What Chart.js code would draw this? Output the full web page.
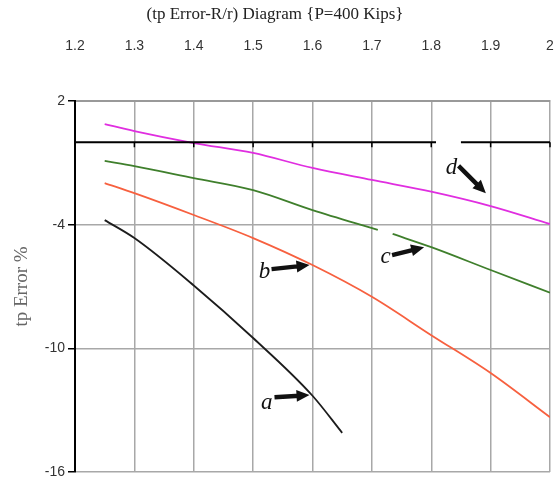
<!DOCTYPE html>
<html><head><meta charset="utf-8">
<script src="https://cdn.jsdelivr.net/npm/chart.js@4.4.1/dist/chart.umd.min.js"></script>
<style>html,body{margin:0;padding:0;background:#fff;}canvas{display:block;}</style>
</head><body>
<canvas id="chart" width="559" height="487"></canvas>
<script>
// ---- data ----
const titleText = '(tp Error-R/r) Diagram {P=400 Kips}';
const yTitle = 'tp Error %';
const xTicks = [1.2, 1.3, 1.4, 1.5, 1.6, 1.7, 1.8, 1.9, 2.0];
const yTicks = [2, -4, -10, -16];

const xA = [1.25, 1.3, 1.4, 1.5, 1.6, 1.65];
const yA = [-3.78, -4.65, -6.95, -9.5, -12.3, -14.1];

const xB = [1.25, 1.3, 1.4, 1.5, 1.6, 1.7, 1.8, 1.9, 2.0];
const yB = [-1.98, -2.47, -3.53, -4.65, -5.96, -7.5, -9.36, -11.2, -13.34];

const xC = [1.25, 1.3, 1.4, 1.5, 1.6, 1.71, 1.72, 1.735, 1.8, 1.9, 2.0];
const yC = [-0.91, -1.16, -1.74, -2.32, -3.29, -4.25, null, -4.45, -5.09, -6.2, -7.3];

const xD = [1.25, 1.3, 1.4, 1.5, 1.6, 1.7, 1.8, 1.9, 2.0];
const yD = [0.88, 0.54, -0.04, -0.52, -1.25, -1.83, -2.4, -3.1, -3.97];

// curve labels (data coordinates) and their arrows
const curveNames = ['a', 'b', 'c', 'd'];
const nameX = [1.523, 1.519, 1.723, 1.834];
const nameY = [-12.66, -6.3, -5.57, -1.25];
const arrowX1 = [1.536, 1.531, 1.734, 1.846];
const arrowY1 = [-12.37, -6.16, -5.48, -1.15];
const arrowX2 = [1.595, 1.595, 1.788, 1.892];
const arrowY2 = [-12.27, -5.96, -5.09, -2.47];

// zero reference line, interrupted behind label d
const zeroGapFrom = 1.808;
const zeroGapTo = 1.85;

const pts = (xs, ys) => xs.map((x, i) => ({x: x, y: ys[i]}));

const overlay = {
  id: 'overlay',
  afterDatasetsDraw(chart) {
    const ctx = chart.ctx, xs = chart.scales.x, ys = chart.scales.y;
    const y0 = ys.getPixelForValue(0);
    ctx.save();
    ctx.strokeStyle = '#000';
    ctx.lineWidth = 2;
    ctx.beginPath();
    ctx.moveTo(xs.left, y0); ctx.lineTo(xs.getPixelForValue(zeroGapFrom), y0);
    ctx.moveTo(xs.getPixelForValue(zeroGapTo), y0); ctx.lineTo(xs.right, y0);
    ctx.stroke();
    ctx.lineWidth = 1.5;
    ctx.beginPath();
    xTicks.slice(1).forEach(v => {
      const px = xs.getPixelForValue(v);
      ctx.moveTo(px, y0); ctx.lineTo(px, y0 + 5);
    });
    ctx.stroke();

    // labels + arrows
    ctx.fillStyle = '#111';
    ctx.font = 'italic 23px "Liberation Serif", "DejaVu Serif", serif';
    ctx.textAlign = 'center';
    ctx.textBaseline = 'middle';
    curveNames.forEach((n, i) => {
      ctx.fillText(n, xs.getPixelForValue(nameX[i]), ys.getPixelForValue(nameY[i]));
      const x1 = xs.getPixelForValue(arrowX1[i]), y1 = ys.getPixelForValue(arrowY1[i]);
      const x2 = xs.getPixelForValue(arrowX2[i]), y2 = ys.getPixelForValue(arrowY2[i]);
      const ang = Math.atan2(y2 - y1, x2 - x1);
      const len = Math.hypot(x2 - x1, y2 - y1);
      ctx.save();
      ctx.translate(x1, y1); ctx.rotate(ang);
      ctx.beginPath();
      ctx.rect(0, -2.2, len - 10, 4.4);
      ctx.moveTo(len - 13, -6); ctx.lineTo(len, 0); ctx.lineTo(len - 13, 6); ctx.closePath();
      ctx.fill();
      ctx.restore();
    });
    ctx.restore();
  }
};

const tickFont = {family: '"Liberation Sans Narrow", "Liberation Sans", Arial, sans-serif', size: 14};

new Chart(document.getElementById('chart'), {
  type: 'line',
  data: {
    datasets: [
      {label: 'a', data: pts(xA, yA), borderColor: '#1c1c1c'},
      {label: 'b', data: pts(xB, yB), borderColor: '#f7603f'},
      {label: 'c', data: pts(xC, yC), borderColor: '#3f7f2c'},
      {label: 'd', data: pts(xD, yD), borderColor: '#e02ee0'}
    ].map(d => Object.assign(d, {borderWidth: 1.8, pointRadius: 0, cubicInterpolationMode: 'monotone', spanGaps: false, fill: false}))
  },
  options: {
    responsive: false,
    devicePixelRatio: 1,
    animation: false,
    layout: {padding: {left: 0, right: 9, top: 0, bottom: 15}},
    plugins: {
      legend: {display: false},
      tooltip: {enabled: false},
      title: {
        display: true, text: titleText, color: '#222',
        font: {family: '"Liberation Serif", "Times New Roman", serif', size: 17, weight: 'normal'},
        padding: {top: 4, bottom: 4}
      }
    },
    scales: {
      x: {
        type: 'linear', position: 'top', min: 1.2, max: 2.0,
        afterBuildTicks: s => { s.ticks = xTicks.map(v => ({value: v})); },
        ticks: {
          color: '#333', font: tickFont, padding: 2, maxRotation: 0,
          callback: v => String(Number(v.toFixed(1)))
        },
        grid: {color: '#a8a8a8', lineWidth: 1.5, drawTicks: true, tickLength: 44, tickColor: 'rgba(0,0,0,0)'},
        border: {display: true, color: '#999', width: 2},
        afterFit: s => { s.height = 72.6; }
      },
      y: {
        min: -16, max: 2,
        afterBuildTicks: s => { s.ticks = yTicks.map(v => ({value: v})); },
        ticks: {color: '#333', font: tickFont, padding: 3},
        grid: {color: '#a8a8a8', lineWidth: 1.5, tickColor: '#000', tickLength: 7, tickWidth: 1.5},
        border: {display: true, color: '#000', width: 2},
        title: {
          display: true, text: yTitle, color: '#666',
          font: {family: '"Liberation Serif", "Times New Roman", serif', size: 19},
          padding: {top: 11, bottom: 0}
        },
        afterFit: s => { s.width = 75; }
      }
    }
  },
  plugins: [overlay]
});
</script>
</body></html>
